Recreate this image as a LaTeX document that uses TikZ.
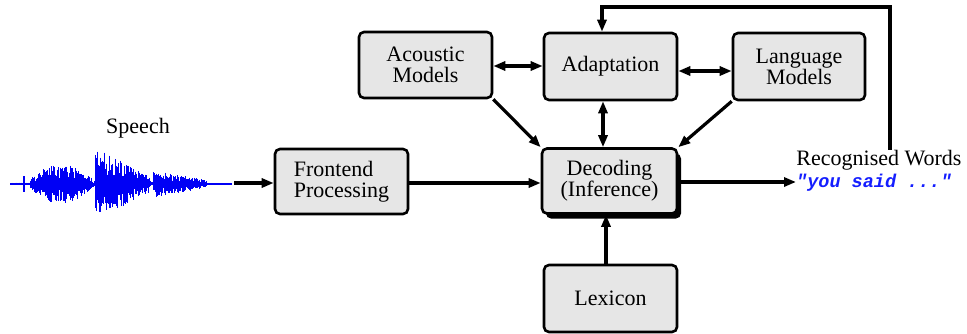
\documentclass[tikz,border=0pt]{standalone}
\usepackage{fontspec}
\setmainfont{Liberation Serif}
\newfontfamily\labelfont{Liberation Serif}
\newfontfamily\codefont{Liberation Mono}
\usetikzlibrary{arrows.meta,shadows}
\definecolor{boxfill}{RGB}{230,230,230}
\definecolor{wave}{RGB}{0,0,245}
\definecolor{saidblue}{RGB}{20,30,255}
\begin{document}
\begin{tikzpicture}[x=1pt,y=-1pt,
  box/.style={draw=black, line width=2.6pt, rounded corners=5pt, fill=boxfill,
    inner sep=0pt, align=center, font=\labelfont\fontsize{22}{21}\selectfont},
  arr/.style={line width=3.2pt, -{Triangle[length=12pt,width=9pt]}},
  dbl/.style={line width=3.2pt, {Triangle[length=12pt,width=9pt]}-{Triangle[length=12pt,width=9pt]}},
  lbl/.style={inner sep=0pt, font=\labelfont\fontsize{22}{22}\selectfont}]
\useasboundingbox (0,0) rectangle (967,333);

% speech waveform: random vertical strokes under a piecewise envelope
\pgfmathsetseed{11}
\draw[wave, line width=2pt] (10,184) -- (232,184);
\draw[wave, line width=1.2pt] (24,176) -- (24,192);
\foreach \i in {0,...,325}{
  \pgfmathsetmacro\x{12+\i*0.6}
  \ifdim\x pt<30pt \def\a{1.5}\else
  \ifdim\x pt<92pt \pgfmathsetmacro\a{6+14*sin(180*(\x-30)/62)}\else
  \ifdim\x pt<95pt \def\a{3}\else
  \ifdim\x pt<150pt \pgfmathsetmacro\a{8+27*(150-\x)/52}\else
  \ifdim\x pt<153pt \def\a{3}\else
  \ifdim\x pt<207pt \pgfmathsetmacro\a{4+10*(207-\x)/54}\else
  \def\a{1.5}\fi\fi\fi\fi\fi\fi
  \pgfmathsetmacro\u{\a*(0.3+0.7*rnd)}
  \pgfmathsetmacro\d{\a*(0.3+0.7*rnd)}
  \draw[wave, line width=0.9pt] (\x,184-\u) -- (\x,184+\d);
}
\coordinate (wend) at (234,183);
\node[lbl] (speech) at (138,128) {Speech};

% processing blocks
\node[box, minimum width=133pt, minimum height=66pt] (ac) at (425.5,65) {Acoustic\\Models};
\node[box, minimum width=133pt, minimum height=67pt] (ad) at (610.5,66.5) {Adaptation};
\node[box, minimum width=132pt, minimum height=67pt] (lm) at (799,66.5) {Language\\Models};
\node[box, minimum width=133pt, minimum height=65pt, align=left] (fe) at (341.5,181.5) {Frontend\\Processing};
\node[box, minimum width=135pt, minimum height=65pt,
  drop shadow={shadow xshift=4pt, shadow yshift=-5pt, fill=black, opacity=1}] (dec) at (609.5,181) {Decoding\\(Inference)};
\node[box, minimum width=133pt, minimum height=67pt] (lex) at (610.5,298.5) {Lexicon};

% output
\node[lbl] (rw) at (879,160) {Recognised Words};
\node[inner sep=0pt, anchor=west, text=saidblue,
  font=\codefont\fontsize{18.5}{18.5}\selectfont\bfseries\itshape] (out) at (796,183) {"you said ..."};

% connectors
\draw[arr] (wend) -- (fe.west |- wend);
\draw[arr] (fe.east |- wend) -- (dec.west |- wend);
\draw[arr] (dec.east |- 0,182) -- (out.west |- 0,182);
\draw[dbl] (ac.east |- 0,66) -- (ad.west |- 0,66);
\draw[dbl] (ad.east |- 0,71) -- (lm.west |- 0,71);
\draw[dbl] ([xshift=-7.5pt]ad.south) -- ([xshift=-7.5pt]ad.south |- dec.north);
\draw[arr] ([xshift=-4.5pt]lex.north) -- ([xshift=-4.5pt]lex.north |- dec.south);
\draw[arr] (ac.south east) -- (dec.north west);
\draw[arr] (lm.south west) -- (dec.north east);
\coordinate (fb) at (890,7);
\draw[arr, rounded corners=0pt] (fb |- rw.north) -- (fb) -| ([xshift=-8.5pt]ad.north);
\end{tikzpicture}
\end{document}
